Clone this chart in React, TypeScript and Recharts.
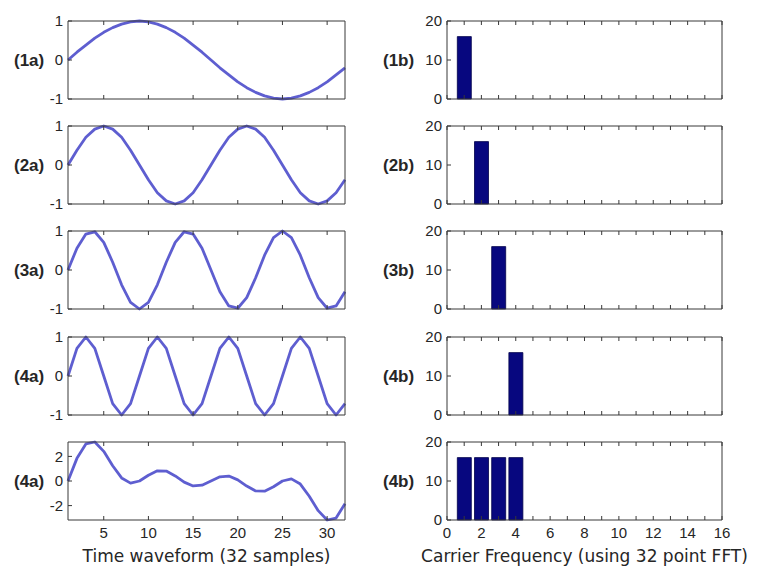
import { LineChart, Line, BarChart, Bar, XAxis, YAxis } from "recharts";

// sample index 1..32 of the time waveform
const sampleIndex = [
  1, 2, 3, 4, 5, 6, 7, 8, 9, 10, 11, 12, 13, 14, 15, 16,
  17, 18, 19, 20, 21, 22, 23, 24, 25, 26, 27, 28, 29, 30, 31, 32,
];

// one, two, three and four cycles over the 32 samples
const wave1 = [
  0, 0.2, 0.38, 0.56, 0.71, 0.83, 0.92, 0.98, 1, 0.98, 0.92, 0.83, 0.71, 0.56, 0.38, 0.2,
  0, -0.2, -0.38, -0.56, -0.71, -0.83, -0.92, -0.98, -1, -0.98, -0.92, -0.83, -0.71, -0.56, -0.38, -0.2,
];
const wave2 = [
  0, 0.38, 0.71, 0.92, 1, 0.92, 0.71, 0.38, 0, -0.38, -0.71, -0.92, -1, -0.92, -0.71, -0.38,
  0, 0.38, 0.71, 0.92, 1, 0.92, 0.71, 0.38, 0, -0.38, -0.71, -0.92, -1, -0.92, -0.71, -0.38,
];
const wave3 = [
  0, 0.56, 0.92, 0.98, 0.71, 0.2, -0.38, -0.83, -1, -0.83, -0.38, 0.2, 0.71, 0.98, 0.92, 0.56,
  0, -0.56, -0.92, -0.98, -0.71, -0.2, 0.38, 0.83, 1, 0.83, 0.38, -0.2, -0.71, -0.98, -0.92, -0.56,
];
const wave4 = [
  0, 0.71, 1, 0.71, 0, -0.71, -1, -0.71, 0, 0.71, 1, 0.71, 0, -0.71, -1, -0.71,
  0, 0.71, 1, 0.71, 0, -0.71, -1, -0.71, 0, 0.71, 1, 0.71, 0, -0.71, -1, -0.71,
];
// the four carriers added together
const waveSum = [
  0, 1.84, 3.01, 3.17, 2.41, 1.24, 0.25, -0.17, 0, 0.47, 0.83, 0.81, 0.41, -0.09, -0.4, -0.34,
  0, 0.34, 0.4, 0.09, -0.41, -0.81, -0.83, -0.47, 0, 0.17, -0.25, -1.24, -2.41, -3.17, -3.01, -1.84,
];

// FFT bins 0..16 and their magnitudes
const freqBins = [0, 1, 2, 3, 4, 5, 6, 7, 8, 9, 10, 11, 12, 13, 14, 15, 16];
const spectrum1 = [0, 16, 0, 0, 0, 0, 0, 0, 0, 0, 0, 0, 0, 0, 0, 0, 0];
const spectrum2 = [0, 0, 16, 0, 0, 0, 0, 0, 0, 0, 0, 0, 0, 0, 0, 0, 0];
const spectrum3 = [0, 0, 0, 16, 0, 0, 0, 0, 0, 0, 0, 0, 0, 0, 0, 0, 0];
const spectrum4 = [0, 0, 0, 0, 16, 0, 0, 0, 0, 0, 0, 0, 0, 0, 0, 0, 0];
const spectrumSum = [0, 16, 16, 16, 16, 0, 0, 0, 0, 0, 0, 0, 0, 0, 0, 0, 0];

const timeTicks = [5, 10, 15, 20, 25, 30];
const unitTicks = [-1, 0, 1];
const sumTicks = [-2, 0, 2];
const magTicks = [0, 10, 20];

const waveLabels = ["(1a)", "(2a)", "(3a)", "(4a)", "(4a)"];
const specLabels = ["(1b)", "(2b)", "(3b)", "(4b)", "(4b)"];

const FONT = '"Liberation Sans", Arial, Helvetica, sans-serif';
const INK = "#262626";
const AXIS = "#383838";
const WAVE = "#4848ca";
const BAR = "#07077f";

const ROW_TOP = [21, 126, 231, 337, 442];
const BOX_H = 78;
const PAD = 10;
const LAST_AXIS_H = 50;

const tickStyle = { fontSize: 15, fill: INK, fontFamily: FONT };
const blank = () => "";

// bottom axis (labels only on the last row) plus a bare top axis to close the box
function frame(last: boolean, xLabel: string, xTicks: number[], xDomain: number[], xFmt?: (v: number) => string) {
  return [
    <XAxis
      key="xb"
      xAxisId="b"
      type="number"
      dataKey="x"
      domain={xDomain}
      ticks={xTicks}
      interval={0}
      height={last ? LAST_AXIS_H : 1}
      stroke={AXIS}
      tickSize={-4}
      tickMargin={11}
      tick={tickStyle}
      tickFormatter={last ? xFmt : blank}
      label={
        last
          ? {
              value: xLabel,
              position: "insideBottom",
              offset: 8,
              fontSize: 17,
              fill: INK,
              fontFamily: '"DejaVu Sans", sans-serif',
            }
          : undefined
      }
    />,
    <XAxis
      key="xt"
      xAxisId="t"
      orientation="top"
      type="number"
      dataKey="x"
      domain={xDomain}
      ticks={xTicks}
      interval={0}
      height={1}
      stroke={AXIS}
      tickSize={-4}
      tickFormatter={blank}
    />,
  ];
}

function WavePanel({ row }: { row: number }) {
  const series = [wave1, wave2, wave3, wave4, waveSum][row];
  const last = row === 4;
  const data = sampleIndex.map((n, i) => ({ x: n, v: series[i] }));
  const h = PAD + BOX_H + (last ? LAST_AXIS_H : 1) + PAD;
  return (
    <div style={{ position: "absolute", left: 0, top: ROW_TOP[row] - PAD }}>
      <LineChart width={360} height={h} data={data} margin={{ top: PAD - 1, right: 14, bottom: PAD, left: 0 }}>
        {frame(last, "Time waveform (32 samples)", timeTicks, [1, 32], (v) => String(v))}
        <YAxis
          yAxisId="l"
          type="number"
          width={68}
          domain={last ? ["dataMin", "dataMax"] : [-1, 1]}
          ticks={last ? sumTicks : unitTicks}
          interval={0}
          stroke={AXIS}
          tickSize={-4}
          tickMargin={9}
          tick={tickStyle}
          label={{
            value: waveLabels[row],
            position: "insideLeft",
            offset: 14,
            fontSize: 17,
            fontWeight: 700,
            fill: INK,
            fontFamily: FONT,
          }}
        />
        <YAxis
          yAxisId="r"
          orientation="right"
          type="number"
          width={1}
          domain={last ? ["dataMin", "dataMax"] : [-1, 1]}
          ticks={last ? sumTicks : unitTicks}
          interval={0}
          stroke={AXIS}
          tickSize={-4}
          tickFormatter={blank}
        />
        <Line
          xAxisId="b"
          yAxisId="l"
          type="linear"
          dataKey="v"
          stroke={WAVE}
          strokeWidth={2.8}
          strokeOpacity={0.88}
          strokeLinejoin="round"
          dot={false}
          isAnimationActive={false}
        />
      </LineChart>
    </div>
  );
}

function SpectrumPanel({ row }: { row: number }) {
  const series = [spectrum1, spectrum2, spectrum3, spectrum4, spectrumSum][row];
  const last = row === 4;
  const data = freqBins.map((f, i) => ({ x: f, mag: series[i] }));
  const h = PAD + BOX_H + (last ? LAST_AXIS_H : 1) + PAD;
  return (
    <div style={{ position: "absolute", left: 370, top: ROW_TOP[row] - PAD }}>
      <BarChart width={388} height={h} data={data} margin={{ top: PAD - 1, right: 35, bottom: PAD, left: 0 }}>
        {frame(last, "Carrier Frequency (using 32 point FFT)", freqBins, [0, 16], (v) =>
          v % 2 === 0 ? String(v) : ""
        )}
        <YAxis
          yAxisId="l"
          type="number"
          width={77}
          domain={[0, 20]}
          ticks={magTicks}
          interval={0}
          stroke={AXIS}
          tickSize={-4}
          tickMargin={9}
          tick={tickStyle}
          label={{
            value: specLabels[row],
            position: "insideLeft",
            offset: 13,
            fontSize: 17,
            fontWeight: 700,
            fill: INK,
            fontFamily: FONT,
          }}
        />
        <YAxis
          yAxisId="r"
          orientation="right"
          type="number"
          width={1}
          domain={[0, 20]}
          ticks={magTicks}
          interval={0}
          stroke={AXIS}
          tickSize={-4}
          tickFormatter={blank}
        />
        <Bar
          xAxisId="b"
          yAxisId="l"
          dataKey="mag"
          fill={BAR}
          stroke="#00004a"
          strokeWidth={0.8}
          isAnimationActive={false}
        />
      </BarChart>
    </div>
  );
}

export default function App() {
  const rows = [0, 1, 2, 3, 4];
  return (
    <div
      style={{
        position: "absolute",
        left: 0,
        top: 0,
        width: 758,
        height: 572,
        background: "#fff",
        fontFamily: FONT,
        overflow: "hidden",
      }}
    >
      {rows.map((r) => (
        <WavePanel key={"w" + r} row={r} />
      ))}
      {rows.map((r) => (
        <SpectrumPanel key={"s" + r} row={r} />
      ))}
    </div>
  );
}
